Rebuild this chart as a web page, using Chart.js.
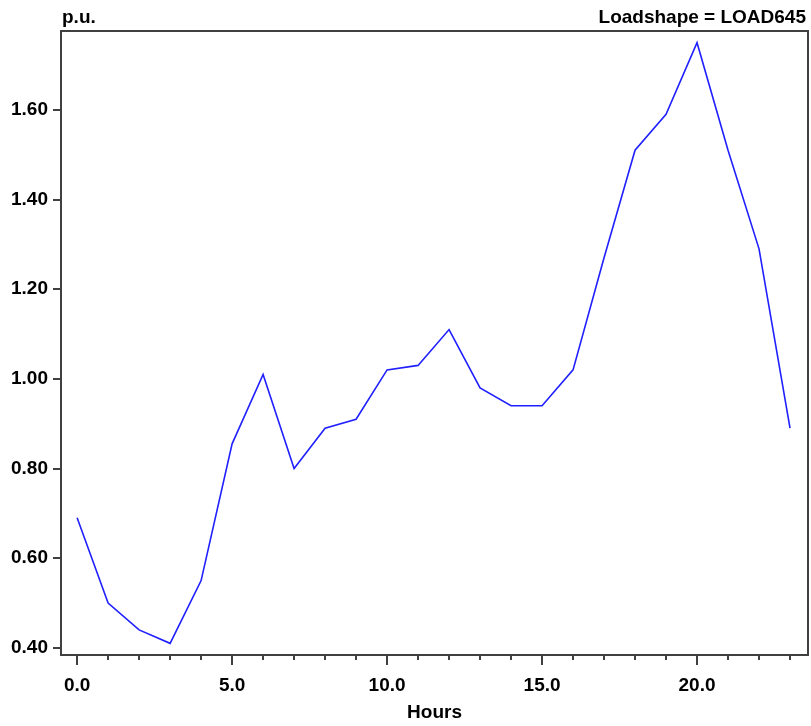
<!DOCTYPE html>
<html>
<head>
<meta charset="utf-8">
<script src="https://cdn.jsdelivr.net/npm/chart.js@4"></script>
<style>
  html, body { margin: 0; padding: 0; background: #fff; }
  #wrap { width: 811px; height: 726px; }
</style>
</head>
<body>
<div id="wrap"><canvas id="loadChart"></canvas></div>
<script>
// load shape data, one value per hour
const hours = [0, 1, 2, 3, 4, 5, 6, 7, 8, 9, 10, 11, 12, 13, 14, 15, 16, 17, 18, 19, 20, 21, 22, 23];
const puValues = [0.69, 0.50, 0.44, 0.41, 0.55, 0.855, 1.01, 0.80, 0.89, 0.91, 1.02, 1.03,
                  1.11, 0.98, 0.94, 0.94, 1.02, 1.27, 1.51, 1.59, 1.75, 1.51, 1.29, 0.89];
const yTicks = [0.4, 0.6, 0.8, 1.0, 1.2, 1.4, 1.6];
const xMajor = [0, 5, 10, 15, 20];

const FONT = "'Liberation Sans', Arial, sans-serif";
const AXIS_COLOR = "#404040";

// frame, hour ticks and the two header texts
const framePlugin = {
  id: "frame",
  afterDraw(chart) {
    const { ctx, chartArea: a, scales } = chart;
    ctx.save();
    ctx.strokeStyle = AXIS_COLOR;
    ctx.lineWidth = 2;
    ctx.strokeRect(a.left, a.top, a.right - a.left, a.bottom - a.top);

    hours.forEach((h) => {
      const x = Math.round(scales.x.getPixelForValue(h));
      const len = xMajor.includes(h) ? 10 : 5;
      ctx.beginPath();
      ctx.moveTo(x, a.bottom);
      ctx.lineTo(x, a.bottom + len);
      ctx.stroke();
    });

    ctx.fillStyle = "#000";
    ctx.font = "bold 19px " + FONT;
    ctx.textBaseline = "bottom";
    ctx.textAlign = "left";
    ctx.fillText("p.u.", a.left + 1, a.top - 4);
    ctx.textAlign = "right";
    ctx.fillText("Loadshape = LOAD645", a.right - 2, a.top - 4);
    ctx.restore();
  },
};

const data = {
  datasets: [
    {
      label: "LOAD645",
      data: hours.map((h, i) => ({ x: h, y: puValues[i] })),
      borderColor: "#2020ff",
      borderWidth: 1.6,
      pointRadius: 0,
      tension: 0,
      fill: false,
    },
  ],
};

const config = {
  type: "line",
  data: data,
  options: {
    responsive: true,
    maintainAspectRatio: false,
    animation: false,
    layout: { padding: { top: 31, right: 3, left: 0, bottom: 0 } },
    plugins: {
      legend: { display: false },
      tooltip: { enabled: false },
    },
    scales: {
      x: {
        type: "linear",
        min: -0.52,
        max: 23.58,
        afterFit(scale) { scale.height = 71; },
        afterBuildTicks(scale) { scale.ticks = xMajor.map((v) => ({ value: v })); },
        grid: { display: true, drawOnChartArea: false, drawTicks: false },
        border: { display: false },
        ticks: {
          color: "#000",
          padding: 19,
          font: { family: FONT, size: 19, weight: "bold" },
          callback: (v) => v.toFixed(1),
        },
        title: {
          display: true,
          text: "Hours",
          color: "#000",
          padding: { top: 0, bottom: 2 },
          font: { family: FONT, size: 19, weight: "bold" },
        },
      },
      y: {
        type: "linear",
        min: 0.384,
        max: 1.776,
        afterFit(scale) { scale.width = 61; },
        afterBuildTicks(scale) { scale.ticks = yTicks.map((v) => ({ value: v })); },
        grid: {
          drawOnChartArea: false,
          drawTicks: true,
          tickLength: 8,
          color: AXIS_COLOR,
          lineWidth: 2,
        },
        border: { display: false },
        ticks: {
          color: "#000",
          padding: 5,
          font: { family: FONT, size: 19, weight: "bold" },
          callback: (v) => v.toFixed(2),
        },
      },
    },
  },
  plugins: [framePlugin],
};

const ctx = document.getElementById("loadChart").getContext("2d");
new Chart(ctx, config);
</script>
</body>
</html>
